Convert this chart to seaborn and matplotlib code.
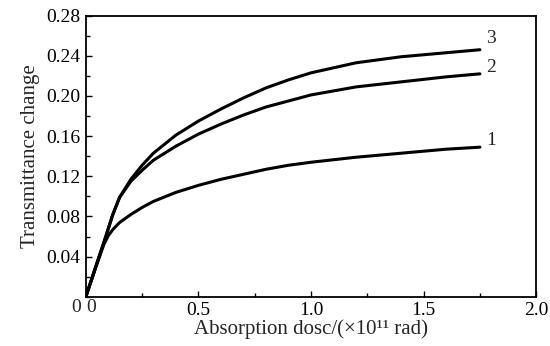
import numpy as np
import pandas as pd
import seaborn as sns
from matplotlib import pyplot as plt
from matplotlib.ticker import MultipleLocator

dose = [0, 0.05, 0.08, 0.1, 0.12, 0.15, 0.2, 0.25, 0.3, 0.4, 0.5, 0.6, 0.7, 0.8, 0.9, 1.0, 1.2, 1.4, 1.6, 1.75]
curve1 = [0, 0.033, 0.052, 0.061, 0.067, 0.074, 0.082, 0.089, 0.095, 0.104, 0.111, 0.117, 0.122, 0.127, 0.131, 0.134, 0.139, 0.143, 0.147, 0.149]
curve2 = [0, 0.034, 0.054, 0.068, 0.082, 0.099, 0.115, 0.126, 0.136, 0.150, 0.162, 0.172, 0.181, 0.189, 0.195, 0.201, 0.209, 0.214, 0.219, 0.222]
curve3 = [0, 0.034, 0.054, 0.068, 0.082, 0.099, 0.117, 0.131, 0.143, 0.161, 0.175, 0.187, 0.198, 0.208, 0.216, 0.223, 0.233, 0.239, 0.243, 0.246]
labels = ["1", "2", "3"]

sns.set_style("white")
plt.rcParams['font.family'] = ['Liberation Serif', 'DejaVu Serif']
plt.rcParams['xtick.direction'] = 'in'
plt.rcParams['ytick.direction'] = 'in'

df = pd.DataFrame({
    'dose': dose * 3,
    'value': curve1 + curve2 + curve3,
    'curve': [l for l in labels for _ in dose],
})

fig = plt.figure(figsize=(5.5, 3.46), dpi=100)
ax = fig.add_axes([0.156, 0.142, 0.819, 0.813])

sns.lineplot(data=df, x='dose', y='value', units='curve', estimator=None,
             color='black', linewidth=2.2, ax=ax, sort=True)

ax.set_xlim(0, 2.0)
ax.set_ylim(0, 0.28)
ax.xaxis.set_minor_locator(MultipleLocator(0.25))
ax.yaxis.set_minor_locator(MultipleLocator(0.02))
ax.set_xticks([0.5, 1.0, 1.5, 2.0])
ax.set_xticklabels(['0.5', '1.0', '1.5', '2.0'])
ax.set_yticks([0.04, 0.08, 0.12, 0.16, 0.20, 0.24, 0.28])
ax.set_yticklabels(['0.04', '0.08', '0.12', '0.16', '0.20', '0.24', '0.28'])
ax.tick_params(which='both', bottom=True, left=True, top=False, right=False,
               labelsize=14, width=1, colors='black')
ax.tick_params(which='major', length=4, pad=4)
ax.tick_params(which='minor', length=3)
for s in ax.spines.values():
    s.set_color('black')
    s.set_linewidth(1.3)

# the two zero labels sit together in the corner
ax.text(-0.01, -0.008, '0', transform=ax.transAxes, ha='right', va='top', fontsize=14)
ax.text(0.012, -0.008, '0', transform=ax.transAxes, ha='center', va='top', fontsize=14)

for lab, yy in zip(labels, [0.156, 0.228, 0.257]):
    ax.text(1.80, yy, lab, fontsize=14, ha='center', va='center')

ax.set_xlabel('Absorption dosc/(\u00d710\u00b9\u00b9 rad)', fontsize=15, labelpad=0)
ax.set_ylabel('Transmittance change', fontsize=15, labelpad=4)

fig.savefig('out.png', dpi=100)
